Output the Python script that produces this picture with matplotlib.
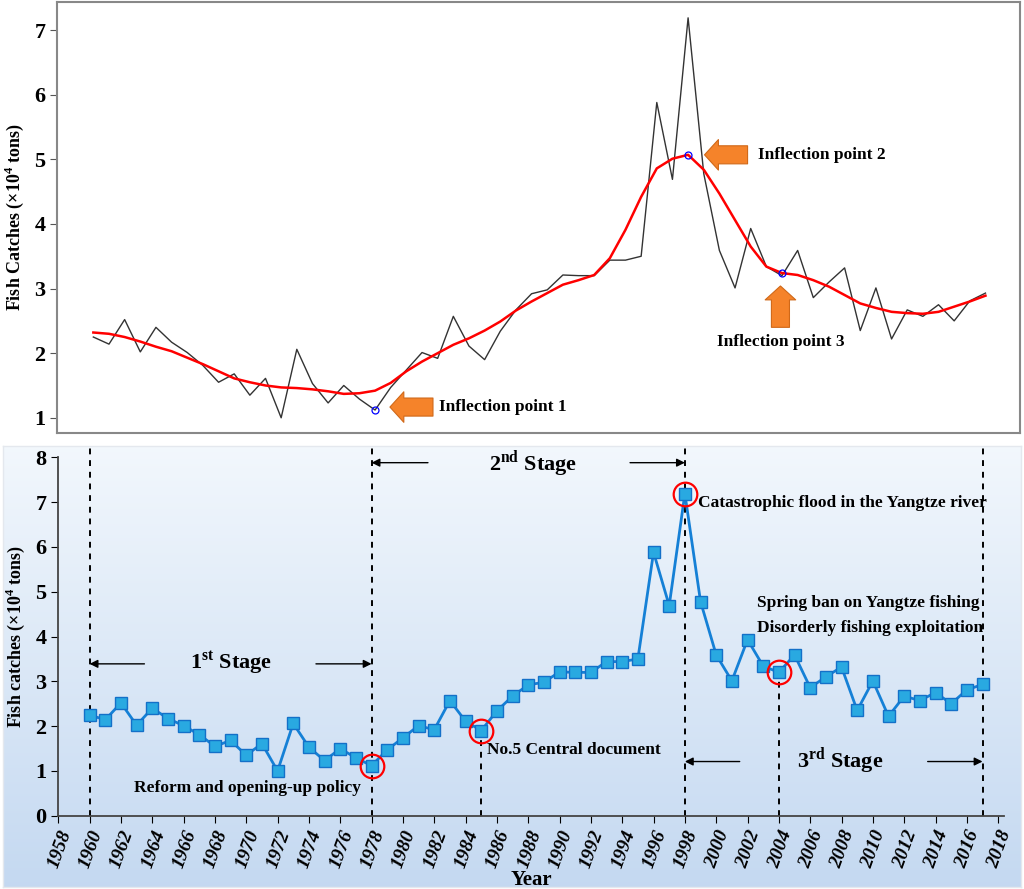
import numpy as np
import matplotlib.pyplot as plt

plt.rcParams['font.family'] = ['Liberation Serif', 'DejaVu Serif']
plt.rcParams['font.weight'] = 'bold'
plt.rcParams['mathtext.fontset'] = 'custom'
plt.rcParams['mathtext.rm'] = 'Liberation Serif:bold'
plt.rcParams['mathtext.bf'] = 'Liberation Serif:bold'

years = list(range(1960, 2018))
catches = [2.25, 2.14, 2.52, 2.02, 2.40, 2.17, 2.01, 1.81, 1.55, 1.68,
           1.35, 1.61, 1.00, 2.06, 1.53, 1.23, 1.50, 1.29, 1.12, 1.47,
           1.74, 2.01, 1.92, 2.57, 2.11, 1.90, 2.34, 2.67, 2.92, 2.98,
           3.21, 3.20, 3.20, 3.44, 3.44, 3.50, 5.88, 4.69, 7.19, 4.78,
           3.59, 3.01, 3.93, 3.34, 3.20, 3.59, 2.86, 3.10, 3.32, 2.35,
           3.01, 2.22, 2.67, 2.57, 2.75, 2.50, 2.81, 2.93]
smooth = [2.32, 2.30, 2.25, 2.18, 2.10, 2.03, 1.93, 1.83, 1.72, 1.61,
          1.55, 1.50, 1.47, 1.46, 1.44, 1.41, 1.37, 1.38, 1.42, 1.54,
          1.72, 1.87, 2.00, 2.13, 2.23, 2.35, 2.49, 2.66, 2.80, 2.93,
          3.06, 3.13, 3.21, 3.47, 3.91, 4.42, 4.86, 5.01, 5.07, 4.84,
          4.47, 4.06, 3.65, 3.34, 3.24, 3.21, 3.13, 3.03, 2.90, 2.77,
          2.70, 2.64, 2.62, 2.61, 2.64, 2.72, 2.80, 2.89]
inflection_years = [1978, 1998, 2004]
event_years = [1978, 1985, 1998, 2004]
stage_bounds = [1960, 1978, 1998, 2017]

orange = '#f5832a'
fig = plt.figure(figsize=(10.24, 8.89), dpi=100)

# ---------- top panel ----------
ax1 = fig.add_axes([0.056, 0.5126, 0.94, 0.4855])
ax1.plot(years, catches, color='#333333', lw=1.0)
ax1.plot(years, smooth, color='red', lw=1.8)
iy = [catches[years.index(inflection_years[0])],
      smooth[years.index(inflection_years[1])],
      smooth[years.index(inflection_years[2])]]
ax1.plot(inflection_years, iy, 'o', ms=5, mfc='none', mec='blue', mew=0.9)
ax1.set_xlim(1957.7, 2019.2)
ax1.set_ylim(0.76, 7.44)
ax1.set_xticks([])
ax1.set_yticks(range(1, 8))
ax1.tick_params(axis='y', labelsize=16, direction='out', length=5, color='#555555')
for s in ax1.spines.values():
    s.set_color('#888888')
    s.set_linewidth(1.5)
ax1.set_ylabel(r'Fish Catches (×10$^{4}$ tons)', fontsize=13, fontweight='bold', labelpad=6)

arrow_style = 'simple,head_length=1.0,head_width=2.2,tail_width=1.3'
ap = dict(arrowstyle=arrow_style, mutation_scale=10, fc=orange, ec='#d06818',
          lw=0.8, shrinkA=0, shrinkB=0)
ax1.annotate('', xy=(1978.95, 1.166), xytext=(1981.7, 1.166), arrowprops=ap)
ax1.text(1982.1, 1.166, 'Inflection point 1', fontsize=12.5, ha='left', va='center')
ax1.annotate('', xy=(1999.05, 5.07), xytext=(2001.8, 5.07), arrowprops=ap)
ax1.text(2002.45, 5.07, 'Inflection point 2', fontsize=12.5, ha='left', va='center')
ax1.annotate('', xy=(2003.9, 3.04), xytext=(2003.9, 2.40), arrowprops=ap)
ax1.text(2003.95, 2.17, 'Inflection point 3', fontsize=12.5, ha='center', va='center')

# ---------- bottom panel background ----------
bg = fig.add_axes([0.003, 0.002, 0.994, 0.496])
grad = np.linspace(0, 1, 256).reshape(-1, 1)
c_top = np.array([0.95, 0.97, 0.99])
c_bot = np.array([0.77, 0.85, 0.945])
img = c_top + grad[:, :, None] * (c_bot - c_top)
bg.imshow(img, aspect='auto', extent=[0, 1, 0, 1])
bg.set_xticks([])
bg.set_yticks([])
for s in bg.spines.values():
    s.set_color('#e4e8ee')
    s.set_linewidth(1)
bg.set_zorder(0)

# ---------- bottom panel ----------
ax2 = fig.add_axes([0.0569, 0.0824, 0.924, 0.4032])
ax2.set_zorder(1)
ax2.patch.set_visible(False)
ax2.plot(years, catches, '-s', color='#1580d6', lw=2, ms=8,
         mfc='#29a9e1', mec='#1470c8', mew=1.0, zorder=3)
ey = [catches[years.index(y)] for y in event_years]
ax2.plot(event_years, ey, 'o', ms=17, mfc='none', mec='red', mew=1.6, zorder=4)

for yr in stage_bounds:
    ax2.plot([yr, yr], [0, 8.25], ls=(0, (3, 3)), color='black', lw=1.4,
             clip_on=False, zorder=2)
for yr in [1985, 2004]:
    ax2.plot([yr, yr], [0, catches[years.index(yr)]], ls=(0, (3, 3)),
             color='black', lw=1.4, zorder=2)

hp = dict(arrowstyle='-|>', color='black', lw=1.0, shrinkA=0, shrinkB=0,
          mutation_scale=12)
# stage arrows
ax2.annotate('', xy=(1960, 3.39), xytext=(1963.5, 3.39), arrowprops=hp)
ax2.annotate('', xy=(1978, 3.39), xytext=(1974.45, 3.39), arrowprops=hp)
ax2.text(1969.0, 3.41, r'1$^{\mathrm{st}}$ Stage', fontsize=16, ha='center', va='center')
ax2.annotate('', xy=(1978, 7.88), xytext=(1981.6, 7.88), arrowprops=hp, annotation_clip=False)
ax2.annotate('', xy=(1998, 7.88), xytext=(1994.5, 7.88), arrowprops=hp, annotation_clip=False)
ax2.text(1988.3, 7.86, r'2$^{\mathrm{nd}}$ Stage', fontsize=16, ha='center', va='center')
ax2.annotate('', xy=(1998, 1.21), xytext=(2001.5, 1.21), arrowprops=hp)
ax2.annotate('', xy=(2017, 1.21), xytext=(2013.5, 1.21), arrowprops=hp)
ax2.text(2007.9, 1.23, r'3$^{\mathrm{rd}}$ Stage', fontsize=16, ha='center', va='center')

ax2.text(1970.1, 0.63, 'Reform and opening-up policy', fontsize=12.5, ha='center', va='center')
ax2.text(1985.4, 1.47, 'No.5 Central document', fontsize=12.5, ha='left', va='center')
ax2.text(1998.85, 6.97, 'Catastrophic flood in the Yangtze river', fontsize=12.5,
         ha='left', va='center')
ax2.text(2002.6, 4.74, 'Spring ban on Yangtze fishing', fontsize=12.5, ha='left', va='center')
ax2.text(2002.6, 4.18, 'Disorderly fishing exploitation', fontsize=12.5, ha='left', va='center')

ax2.set_xlim(1958, 2018.4)
ax2.set_ylim(0, 8)
ax2.set_xticks(range(1958, 2019, 2))
ax2.set_yticks(range(0, 9))
ax2.tick_params(axis='x', labelsize=14, rotation=70, direction='out', length=5)
ax2.tick_params(axis='y', labelsize=16, direction='out', length=5)
for lab in ax2.get_xticklabels():
    lab.set_fontstyle('italic')
    lab.set_ha('right')
    lab.set_rotation_mode('anchor')
for side in ['top', 'right']:
    ax2.spines[side].set_visible(False)
for side in ['left', 'bottom']:
    ax2.spines[side].set_color('#444444')
    ax2.spines[side].set_linewidth(1.3)
ax2.set_ylabel(r'Fish catches (×10$^{4}$ tons)', fontsize=13, fontweight='bold', labelpad=6)
ax2.set_xlabel('Year', fontsize=15, fontweight='bold', labelpad=0)

fig.savefig('out.png', dpi=100)
